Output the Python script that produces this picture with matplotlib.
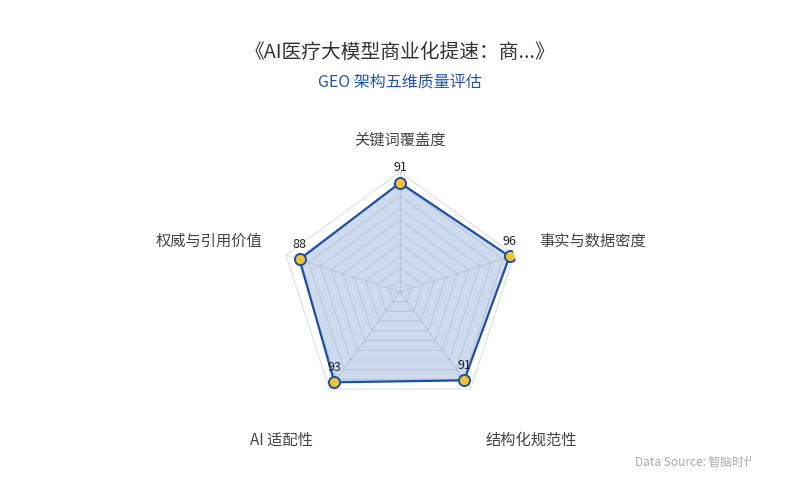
import numpy as np
import matplotlib
matplotlib.use('Agg')
import matplotlib.pyplot as plt
from matplotlib.transforms import Bbox

plt.rcParams['font.family'] = ['Noto Sans CJK SC', 'DejaVu Sans']

# data
dimensions = ['关键词覆盖度', '事实与数据密度', '结构化规范性', 'AI 适配性', '权威与引用价值']
scores = [91, 96, 91, 93, 88]
max_score = 100
rings = 10

title = '《AI医疗大模型商业化提速：商...》'
subtitle = 'GEO 架构五维质量评估'
source = 'Data Source: 智脑时代'

line_col = '#1f4fa0'
fill_col = '#ccd8ee'
dot_col = '#f2c12e'

fig = plt.figure(figsize=(8, 5), dpi=100)
fig.patch.set_facecolor('white')

fig.text(0.5, 1 - 52 / 500, title, ha='center', va='center', fontsize=14.2, color='#333333')
fig.text(0.5, 1 - 82 / 500, subtitle, ha='center', va='center', fontsize=11.5, color='#2356a8')
src = fig.text(635 / 800, 1 - 462 / 500, source, ha='left', va='center', fontsize=8.5, color='#aaaaaa')
# the source note is cut off at the right edge, as in the original
src.set_clip_box(Bbox.from_extents(0, 0, 751, 500))
src.set_clip_on(True)

ax = fig.add_axes([0.35, 0.176, 0.3, 0.48], projection='polar')
ax.set_theta_offset(np.pi / 2)
ax.set_theta_direction(-1)
ax.set_ylim(0, max_score)
ax.axis('off')

n = len(dimensions)
theta = np.arange(n) * 2 * np.pi / n
theta_closed = np.append(theta, theta[0])

# data area
vals = np.array(scores + scores[:1])
ax.fill(theta_closed, vals, color=fill_col, alpha=0.95, zorder=2, lw=0)

# grid rings and spokes
for k in range(1, rings + 1):
    r = max_score * k / rings
    ax.plot(theta_closed, [r] * (n + 1), color='#8090a8', alpha=0.28, lw=0.8, zorder=3)
for t in theta:
    ax.plot([t, t], [0, max_score], color='#8090a8', alpha=0.28, lw=0.8, zorder=3)

ax.plot(theta_closed, vals, color=line_col, lw=1.6, zorder=4)
ax.plot(theta, scores, 'o', ms=8, mfc=dot_col, mec=line_col, mew=1.4, zorder=5)

for t, v in zip(theta, scores):
    ax.annotate(str(v), xy=(t, v), xytext=(0, 11), textcoords='offset points',
                ha='center', va='center', fontsize=9, color='#222222', zorder=6)

# axis names (offsets in points from axis end)
name_pos = [((0, 23), 'center'), ((18, 10), 'left'), ((11, -37), 'left'),
            ((-12, -37), 'right'), ((-17, 10), 'right')]
for t, name, (off, ha) in zip(theta, dimensions, name_pos):
    ax.annotate(name, xy=(t, max_score), xytext=off, textcoords='offset points',
                ha=ha, va='center', fontsize=11, color='#444444', annotation_clip=False)

fig.savefig('out.png', dpi=100, facecolor='white')
